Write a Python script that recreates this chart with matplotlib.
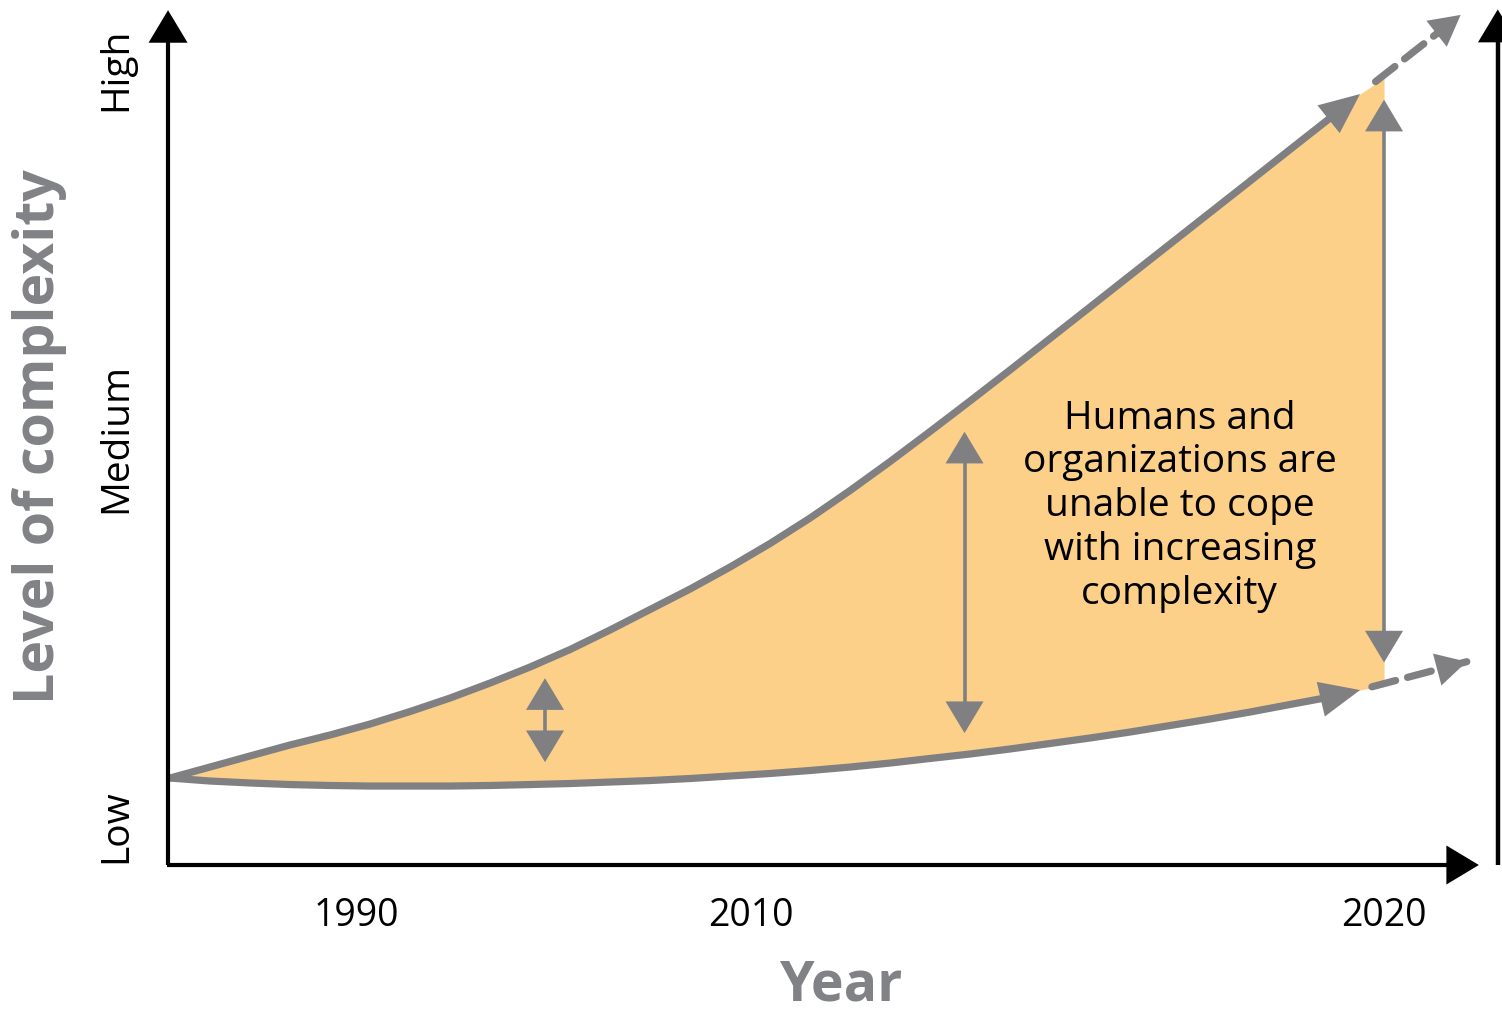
import matplotlib
matplotlib.use("Agg")
import matplotlib.pyplot as plt
from matplotlib.patches import FancyArrowPatch
from matplotlib.path import Path
import numpy as np

# ---- data (arbitrary units: x = time index 0..100 (2020), y = complexity 0..100) ----
curve_x = [0.16, 3.45, 6.74, 10.03, 13.32, 16.61, 19.90, 23.19, 26.48, 29.77,
           33.06, 36.35, 39.64, 42.93, 46.22, 49.51, 52.80, 56.09, 59.38, 62.66,
           65.95, 69.24, 72.53, 75.82, 79.11, 82.40, 85.69, 88.98, 92.27, 95.56, 98.03]
upper_y = [11.08, 12.48, 13.89, 15.29, 16.56, 17.96, 19.55, 21.27, 23.18, 25.22,
           27.45, 29.94, 32.55, 35.16, 37.96, 40.96, 44.20, 47.71, 51.40, 55.22,
           59.11, 63.06, 67.07, 71.08, 75.10, 79.11, 83.12, 87.13, 91.15, 95.16, 98.22]
lower_y = [11.08, 10.70, 10.45, 10.25, 10.13, 10.06, 10.06, 10.06, 10.13, 10.25,
           10.38, 10.57, 10.76, 11.02, 11.34, 11.66, 12.04, 12.48, 12.99, 13.57,
           14.14, 14.78, 15.48, 16.18, 16.94, 17.77, 18.60, 19.49, 20.45, 21.40, 22.29]
fill_end_x = 100.0
fill_end_upper = 100.3
fill_end_lower = 22.9
upper_dash_x = [99.3, 106.3]
upper_dash_y = [99.8, 108.3]
lower_dash_x = [99.0, 106.8]
lower_dash_y = [22.7, 25.9]
gap_x = [31.0, 65.5, 100.0]
gap_lo = [13.1, 16.8, 25.8]
gap_hi = [23.8, 55.2, 97.5]
tick_pos = [15.5, 47.9, 100.0]
tick_labels = ["1990", "2010", "2020"]
level_pos = [4.9, 54.4, 101.4]
level_labels = ["Low", "Medium", "High"]
annotation = "Humans and\norganizations are\nunable to cope\nwith increasing\ncomplexity"

GRAY = "#808083"
FILL = "#fdd08a"
LBL = "#818285"

fig = plt.figure(figsize=(15.02, 10.11), dpi=100)
ax = fig.add_axes([0, 0, 1, 1])
ax.set_xlim(-13.82, 109.7)
ax.set_ylim(-18.6, 110.2)
ax.axis("off")

# fill between curves
fx = curve_x + [fill_end_x]
fu = upper_y + [fill_end_upper]
fl = lower_y + [fill_end_lower]
ax.fill_between(fx, fl, fu, color=FILL, lw=0, zorder=1)


def arrow_path(xs, ys, style, ms, lw, color, z):
    verts = np.column_stack([xs, ys])
    codes = [Path.MOVETO] + [Path.LINETO] * (len(xs) - 1)
    p = FancyArrowPatch(path=Path(verts, codes), arrowstyle=style, mutation_scale=ms,
                        lw=lw, color=color, joinstyle="miter", capstyle="butt",
                        zorder=z, transform=ax.transData)
    ax.add_patch(p)


# solid curves with arrowheads
for ys in (upper_y, lower_y):
    arrow_path(curve_x, ys, "-|>,head_length=0.5,head_width=0.22", 40, 5.2, GRAY, 3)

# dashed continuations
for xs, ys in [(upper_dash_x, upper_dash_y), (lower_dash_x, lower_dash_y)]:
    ax.plot(xs, ys, color=GRAY, lw=5.2, dashes=(3.4, 1.7), dash_capstyle="round", zorder=3)
    dx = xs[1] - xs[0]
    dy = ys[1] - ys[0]
    ax.annotate("", xy=(xs[1], ys[1]), xytext=(xs[1] - 0.05 * dx, ys[1] - 0.05 * dy),
                arrowprops=dict(arrowstyle="-|>,head_length=0.5,head_width=0.27",
                                mutation_scale=44, color=GRAY, lw=0,
                                shrinkA=0, shrinkB=0), zorder=4)

# gap double arrows
for gx, lo, hi in zip(gap_x, gap_lo, gap_hi):
    arrow_path([gx, gx], [lo, hi], "<|-|>,head_length=0.5,head_width=0.3", 38, 2.6, GRAY, 5)

# axes arrows
arrow_path([0, 0], [0, 108.9], "-|>,head_length=0.5,head_width=0.3", 38, 3, "black", 6)
arrow_path([-0.12, 107.8], [0, 0], "-|>,head_length=0.5,head_width=0.3", 38, 3, "black", 6)
arrow_path([109.35, 109.35], [0, 109.0], "-|>,head_length=0.5,head_width=0.3", 38, 3.2, "black", 6)

FONT = ["Open Sans", "DejaVu Sans"]
for p, t in zip(tick_pos, tick_labels):
    ax.text(p, -6.5, t, ha="center", va="center", fontsize=27, family=FONT)
for p, t in zip(level_pos, level_labels):
    ax.text(-4.3, p, t, ha="center", va="center", rotation=90, fontsize=28, family=FONT)

ax.text(83.2, 45.7, annotation, ha="center", va="center", fontsize=28,
        linespacing=1.2, family=FONT, zorder=7)

ax.text(-10.6, 54.6, "Level of complexity", ha="center", va="center", rotation=90,
        fontsize=40, fontweight="bold", color=LBL, family=FONT)
ax.text(55.3, -15.4, "Year", ha="center", va="center",
        fontsize=40, fontweight="bold", color=LBL, family=FONT)

fig.savefig("out.png", dpi=100)
